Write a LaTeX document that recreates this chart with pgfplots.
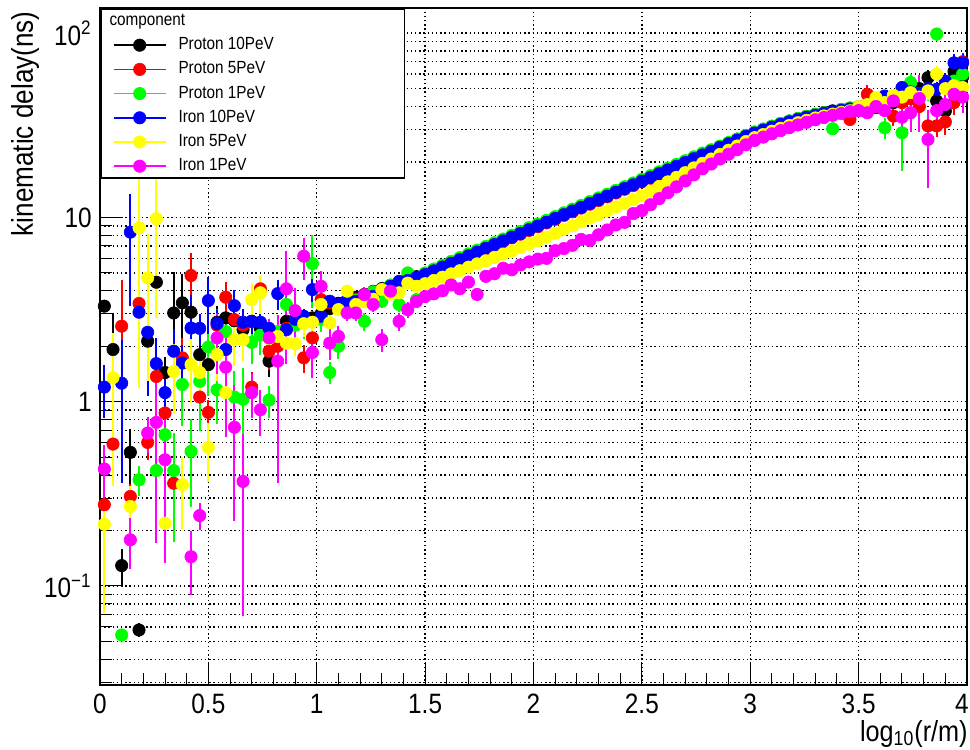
\documentclass[border=0pt]{standalone}
\usepackage{fontspec}
\setmainfont{Liberation Sans}[FakeStretch=0.87]
\usepackage{pgfplots}
\usepackage{pgfplotstable}
\pgfplotsset{compat=1.18}
\definecolor{rBlack}{rgb}{0,0,0}
\definecolor{rRed}{rgb}{1,0,0}
\definecolor{rGreen}{rgb}{0,1,0}
\definecolor{rBlue}{rgb}{0,0,1}
\definecolor{rYellow}{rgb}{1,1,0}
\definecolor{rMagenta}{rgb}{1,0,1}

\pgfplotstableread{
x y e
0.02 3.30 0.25
0.06 1.92 1.1
0.10 0.129 0.03
0.14 0.531 0.18
0.18 0.0577 0.005
0.22 2.13 0.4
0.26 4.45 1.5
0.30 1.44 0.3
0.34 3.03 2.0
0.38 3.44 1.5
0.42 3.06 0.8
0.46 1.80 0.5
0.50 1.59 0.4
0.54 2.70 0.6
0.58 2.85 0.5
0.62 2.75 0.5
0.66 2.46 0.5
0.70 2.73 0.4
0.74 2.50 0.4
0.78 1.66 0.3
0.82 2.34 0.4
0.86 2.73 0.4
0.90 2.80 0.3
0.94 2.90 0.3
0.98 2.85 0.3
1.02 3.00 0.3
1.06 3.20 0.2
1.10 3.42 0.1
1.14 3.56 0.1
1.18 3.69 0.1
1.22 3.82 0.1
1.26 3.97 0.1
1.30 4.11 0.1
1.34 4.27 0.1
1.38 4.43 0.1
1.42 4.60 0.1
1.46 4.77 0.1
1.50 4.95 0.1
1.54 5.18 0.1
1.58 5.44 0.1
1.62 5.70 0.1
1.66 5.96 0.1
1.70 6.26 0.1
1.74 6.55 0.1
1.78 6.86 0.1
1.82 7.19 0.1
1.86 7.54 0.1
1.90 7.90 0.1
1.94 8.27 0.1
1.98 8.68 0.1
2.02 9.08 0.1
2.06 9.51 0.1
2.10 9.97 0.1
2.14 10.45 0.1
2.18 10.95 0.1
2.22 11.46 0.1
2.26 12.03 0.1
2.30 12.59 0.1
2.34 13.19 0.2
2.38 13.85 0.2
2.42 14.49 0.2
2.46 15.18 0.2
2.50 15.90 0.2
2.54 16.64 0.2
2.58 17.47 0.2
2.62 18.29 0.2
2.66 19.16 0.2
2.70 20.06 0.2
2.74 21.05 0.3
2.78 22.05 0.3
2.82 23.09 0.3
2.86 24.23 0.3
2.90 25.37 0.3
2.94 26.56 0.3
2.98 27.82 0.4
3.02 29.00 0.4
3.06 30.09 0.4
3.10 31.21 0.4
3.14 32.31 0.5
3.18 33.37 0.5
3.22 34.38 0.5
3.26 35.34 0.5
3.30 36.25 0.6
3.34 37.10 0.6
3.38 37.88 0.7
3.42 38.57 0.8
3.46 39.20 0.8
3.50 39.0 1
3.54 40.0 2
3.58 39.5 2
3.62 44.0 3
3.66 42.0 3
3.70 47.0 4
3.74 45.0 4
3.78 50.0 5
3.82 57.4 6
3.86 42.9 5
3.90 37.8 6
3.94 62.0 8
3.98 58.0 8
}\Pten

\pgfplotstableread{
x y e
0.02 0.276 0.05
0.06 0.589 0.2
0.10 2.57 2.0
0.14 0.306 0.05
0.18 3.41 0.8
0.22 0.601 0.12
0.26 1.37 0.4
0.30 0.868 0.2
0.34 0.361 0.05
0.38 1.73 0.5
0.42 4.84 1.6
0.46 1.06 0.2
0.50 0.875 0.15
0.54 2.60 0.6
0.58 3.69 0.8
0.62 2.79 0.6
0.66 2.60 0.5
0.70 1.20 0.25
0.74 4.10 0.7
0.78 1.88 0.4
0.82 2.00 0.4
0.86 2.50 0.4
0.90 2.62 0.4
0.94 1.73 0.3
0.98 2.22 0.3
1.02 3.58 0.3
1.06 3.44 0.3
1.10 3.36 0.1
1.14 3.48 0.1
1.18 3.61 0.1
1.22 3.74 0.1
1.26 3.89 0.1
1.30 4.03 0.1
1.34 4.19 0.1
1.38 4.35 0.1
1.42 4.50 0.1
1.46 4.67 0.1
1.50 4.85 0.1
1.54 5.08 0.1
1.58 5.33 0.1
1.62 5.58 0.1
1.66 5.84 0.1
1.70 6.13 0.1
1.74 6.43 0.1
1.78 6.73 0.1
1.82 7.05 0.1
1.86 7.39 0.1
1.90 7.74 0.1
1.94 8.11 0.1
1.98 8.50 0.1
2.02 8.90 0.1
2.06 9.33 0.1
2.10 9.77 0.1
2.14 10.25 0.1
2.18 10.73 0.1
2.22 11.24 0.1
2.26 11.79 0.1
2.30 12.35 0.1
2.34 12.93 0.2
2.38 13.57 0.2
2.42 14.21 0.2
2.46 14.88 0.2
2.50 15.58 0.2
2.54 16.32 0.2
2.58 17.13 0.2
2.62 17.93 0.2
2.66 18.78 0.2
2.70 19.66 0.2
2.74 20.63 0.3
2.78 21.61 0.3
2.82 22.63 0.3
2.86 23.75 0.3
2.90 24.87 0.3
2.94 26.04 0.3
2.98 27.26 0.4
3.02 28.42 0.4
3.06 29.49 0.4
3.10 30.59 0.4
3.14 31.67 0.5
3.18 32.71 0.5
3.22 33.70 0.5
3.26 34.64 0.5
3.30 35.53 0.6
3.34 36.36 0.6
3.38 37.10 0.7
3.42 37.80 0.8
3.46 34.00 1.5
3.50 38.0 1
3.54 46.6 6
3.58 40.0 2
3.62 42.0 3
3.66 35.5 4
3.70 42.0 4
3.74 44.0 4
3.78 40.0 5
3.82 31.4 4
3.86 31.4 4
3.90 33.0 5
3.94 42.0 6
3.98 70.0 8
}\Pfive

\pgfplotstableread{
x y e
0.10 0.0542 0.004
0.18 0.377 0.07
0.26 0.423 0.2
0.30 0.662 0.3
0.34 0.423 0.25
0.38 1.24 0.5
0.42 0.537 0.27
0.46 1.29 0.6
0.50 1.98 0.9
0.54 1.16 0.4
0.58 2.40 0.5
0.62 1.06 0.4
0.66 1.03 0.5
0.70 2.10 0.5
0.74 2.30 0.5
0.78 1.02 0.2
0.82 2.40 0.5
0.86 3.37 0.6
0.90 2.60 0.5
0.94 2.70 0.5
0.98 5.62 2.4
1.02 2.80 0.4
1.06 1.44 0.2
1.10 2.00 0.3
1.14 3.30 0.2
1.18 3.55 0.2
1.22 2.73 0.3
1.26 3.95 0.2
1.30 3.51 0.3
1.34 4.30 0.2
1.38 3.37 0.3
1.42 5.00 0.4
1.46 3.58 0.3
1.50 5.00 0.1
1.54 5.25 0.1
1.58 5.50 0.1
1.62 5.77 0.1
1.66 6.05 0.1
1.70 6.34 0.1
1.74 6.65 0.1
1.78 6.96 0.1
1.82 7.29 0.1
1.86 7.64 0.1
1.90 8.01 0.1
1.94 8.39 0.1
1.98 8.80 0.1
2.02 9.21 0.1
2.06 9.65 0.1
2.10 10.11 0.1
2.14 10.60 0.1
2.18 11.10 0.1
2.22 11.62 0.1
2.26 12.20 0.1
2.30 12.77 0.1
2.34 13.37 0.2
2.38 14.04 0.2
2.42 14.69 0.2
2.46 15.39 0.2
2.50 16.12 0.2
2.54 16.87 0.2
2.58 17.71 0.2
2.62 18.54 0.2
2.66 19.42 0.2
2.70 20.33 0.2
2.74 21.34 0.3
2.78 22.35 0.3
2.82 23.30 0.3
2.86 24.40 0.3
2.90 25.50 0.3
2.94 26.70 0.3
2.98 27.90 0.4
3.02 29.10 0.4
3.06 30.20 0.4
3.10 31.30 0.4
3.14 32.40 0.5
3.18 33.40 0.5
3.22 34.40 0.5
3.26 35.30 0.5
3.30 36.20 0.6
3.34 37.00 0.6
3.38 30.30 2.0
3.42 38.60 0.8
3.46 39.20 0.8
3.50 38.0 1
3.54 39.0 2
3.58 41.0 2
3.62 30.7 4
3.66 45.0 4
3.70 28.8 11
3.74 54.0 6
3.78 47.0 5
3.82 49.0 6
3.86 99.0 8
3.90 52.0 6
3.94 55.0 8
3.98 60.0 8
}\Pone

\pgfplotstableread{
x y e
0.02 1.20 0.38
0.10 1.26 0.9
0.14 8.32 5.0
0.18 3.06 1.2
0.22 2.38 1.3
0.26 1.61 0.6
0.30 1.12 0.3
0.34 1.88 0.6
0.38 1.62 0.4
0.42 2.51 1.3
0.46 2.50 0.5
0.50 3.54 1.2
0.54 2.65 0.5
0.58 1.92 0.4
0.62 3.32 0.7
0.66 2.70 0.5
0.70 2.73 0.4
0.74 2.70 0.4
0.78 2.50 0.3
0.82 3.86 0.7
0.86 2.46 0.4
0.90 2.80 0.3
0.94 2.90 0.3
0.98 4.06 0.6
1.02 2.91 0.3
1.06 3.51 0.3
1.10 3.37 0.1
1.14 3.52 0.1
1.18 3.50 0.1
1.22 3.78 0.1
1.26 3.73 0.1
1.30 4.07 0.1
1.34 4.23 0.1
1.38 4.50 0.1
1.42 4.55 0.1
1.46 4.72 0.1
1.50 4.90 0.1
1.54 5.13 0.1
1.58 5.38 0.1
1.62 5.64 0.1
1.66 5.90 0.1
1.70 6.19 0.1
1.74 6.49 0.1
1.78 6.80 0.1
1.82 7.12 0.1
1.86 7.46 0.1
1.90 7.82 0.1
1.94 8.19 0.1
1.98 8.59 0.1
2.02 8.99 0.1
2.06 9.42 0.1
2.10 9.87 0.1
2.14 10.35 0.1
2.18 10.84 0.1
2.22 11.35 0.1
2.26 11.91 0.1
2.30 12.47 0.1
2.34 13.06 0.2
2.38 13.71 0.2
2.42 14.35 0.2
2.46 15.03 0.2
2.50 15.74 0.2
2.54 16.48 0.2
2.58 17.30 0.2
2.62 18.11 0.2
2.66 18.97 0.2
2.70 19.86 0.2
2.74 20.84 0.3
2.78 21.83 0.3
2.82 22.86 0.3
2.86 23.99 0.3
2.90 25.12 0.3
2.94 26.30 0.3
2.98 27.54 0.4
3.02 28.71 0.4
3.06 29.79 0.4
3.10 30.90 0.4
3.14 31.99 0.5
3.18 33.04 0.5
3.22 34.04 0.5
3.26 34.99 0.5
3.30 35.89 0.6
3.34 36.73 0.6
3.38 37.50 0.7
3.42 38.19 0.8
3.46 38.82 0.8
3.50 40.0 1
3.54 41.0 1.5
3.58 43.0 2
3.62 45.6 3
3.66 44.0 3
3.70 50.7 4
3.74 48.0 4
3.78 47.0 4
3.82 50.0 5
3.86 49.6 5
3.90 55.0 6
3.94 69.0 8
3.98 69.0 8
}\Iten

\pgfplotstableread{
x y e
0.02 0.216 0.145
0.06 1.35 1.0
0.14 0.270 0.08
0.18 8.79 7.6
0.22 4.70 3.4
0.26 9.84 7.0
0.30 0.219 0.08
0.34 1.46 0.6
0.38 0.354 0.15
0.42 1.59 0.6
0.46 1.44 0.4
0.50 0.565 0.2
0.54 1.80 0.5
0.58 1.12 0.4
0.62 2.17 0.6
0.66 2.17 0.5
0.70 3.58 0.8
0.74 3.90 0.9
0.78 2.20 0.5
0.82 2.26 0.4
0.86 2.08 0.4
0.90 2.06 0.3
0.94 2.65 0.4
0.98 2.70 0.4
1.02 3.37 0.4
1.06 2.68 0.3
1.10 3.16 0.2
1.14 3.98 0.3
1.18 3.37 0.2
1.22 3.48 0.2
1.26 3.60 0.2
1.30 4.06 0.3
1.34 3.84 0.2
1.38 3.90 0.2
1.42 4.40 0.2
1.46 4.23 0.1
1.50 4.37 0.1
1.54 4.55 0.1
1.58 4.74 0.1
1.62 4.94 0.1
1.66 5.14 0.1
1.70 5.37 0.1
1.74 5.60 0.1
1.78 5.82 0.1
1.82 6.07 0.1
1.86 6.32 0.1
1.90 6.59 0.1
1.94 6.87 0.1
1.98 7.16 0.1
2.02 7.48 0.1
2.06 7.83 0.1
2.10 8.20 0.1
2.14 8.61 0.1
2.18 9.02 0.1
2.22 9.44 0.1
2.26 9.91 0.1
2.30 10.38 0.1
2.34 10.86 0.2
2.38 11.40 0.2
2.42 11.94 0.2
2.46 12.50 0.2
2.50 13.09 0.2
2.54 13.87 0.2
2.58 14.72 0.2
2.62 15.60 0.2
2.66 16.52 0.2
2.70 17.50 0.2
2.74 18.58 0.3
2.78 19.68 0.3
2.82 20.75 0.3
2.86 21.98 0.3
2.90 23.17 0.3
2.94 24.43 0.3
2.98 25.82 0.4
3.02 27.10 0.4
3.06 28.18 0.4
3.10 29.38 0.4
3.14 30.48 0.5
3.18 31.55 0.5
3.22 32.66 0.5
3.26 33.65 0.5
3.30 34.67 0.6
3.34 35.56 0.6
3.38 36.39 0.7
3.42 37.24 0.8
3.46 37.93 0.8
3.50 40.0 1
3.54 41.0 1.5
3.58 44.7 2
3.62 42.0 3
3.66 46.0 3
3.70 45.0 4
3.74 47.6 4
3.78 45.0 4
3.82 48.6 5
3.86 60.0 6
3.90 50.0 6
3.94 52.0 7
3.98 50.7 8
}\Ifive

\pgfplotstableread{
x y e
0.02 0.431 0.15
0.14 0.178 0.055
0.22 0.676 0.15
0.26 0.772 0.6
0.30 0.484 0.35
0.42 0.144 0.055
0.46 0.241 0.04
0.54 2.22 0.8
0.58 1.54 0.9
0.62 0.726 0.5
0.66 0.369 0.3
0.70 1.12 0.3
0.74 0.905 0.25
0.78 2.22 0.6
0.82 1.66 1.3
0.86 4.10 2.5
0.90 3.12 1.0
0.94 6.16 1.6
0.98 1.85 0.5
1.02 4.23 0.9
1.06 2.08 0.4
1.10 2.26 0.3
1.14 3.03 0.3
1.18 3.03 0.3
1.22 3.81 0.4
1.26 3.37 0.3
1.30 2.17 0.3
1.34 3.98 0.3
1.38 2.73 0.3
1.42 3.16 0.3
1.46 3.50 0.2
1.50 3.72 0.2
1.54 3.85 0.2
1.58 4.00 0.2
1.62 4.30 0.2
1.66 4.10 0.2
1.70 4.46 0.2
1.74 3.82 0.3
1.78 4.79 0.2
1.82 4.95 0.2
1.86 5.30 0.2
1.90 5.20 0.2
1.94 5.52 0.2
1.98 5.74 0.2
2.02 5.94 0.2
2.06 6.00 0.2
2.10 6.60 0.2
2.14 6.78 0.2
2.18 7.06 0.2
2.22 7.60 0.2
2.26 7.50 0.2
2.30 8.05 0.2
2.34 8.55 0.2
2.38 9.10 0.2
2.42 9.40 0.3
2.46 10.50 0.3
2.50 10.89 0.3
2.54 11.72 0.3
2.58 12.65 0.3
2.62 13.61 0.3
2.66 14.66 0.3
2.70 15.78 0.3
2.74 17.02 0.3
2.78 18.37 0.4
2.82 19.50 0.4
2.86 20.75 0.4
2.90 22.03 0.4
2.94 23.33 0.4
2.98 24.77 0.5
3.02 26.18 0.5
3.06 27.29 0.5
3.10 28.44 0.5
3.14 29.58 0.6
3.18 30.69 0.6
3.22 31.77 0.6
3.26 32.81 0.7
3.30 33.88 0.7
3.34 34.83 0.8
3.38 35.81 0.8
3.42 36.64 0.9
3.46 37.50 1.0
3.50 38.0 1
3.54 37.0 1.5
3.58 40.0 2
3.62 38.0 3
3.66 42.9 4
3.70 35.0 6
3.74 37.0 8
3.78 44.2 15
3.82 26.5 12
3.86 38.0 8
3.90 41.0 6
3.94 46.6 8
3.98 45.0 8
}\Ione

\pgfplotsset{
  ser/.style={only marks, mark=*, mark size=3.1pt, color=#1,
    mark options={line width=0.3pt},
    legend image code/.code={
      \draw[##1,line width=0.8pt] (0pt,0pt) -- (26pt,0pt);
      \draw[##1,line width=0.3pt] plot coordinates {(13pt,0pt)};
    },
    error bars/.cd, y dir=both, y explicit, error mark=none,
    error bar style={line width=1pt, color=#1}},
}

\begin{document}
\begin{tikzpicture}
\begin{axis}[
  scale only axis, width=433.5pt, height=338.5pt,
  xmin=0, xmax=4, ymode=log, ymin=0.029, ymax=137,
  axis line style={line width=0.9pt},
  tick align=inside, xtick pos=bottom, ytick pos=left,
  xtick={0,0.5,1,1.5,2,2.5,3,3.5,4},
  xticklabels={0,0.5,1,1.5,2,2.5,3,3.5,\kern-5pt 4},
  minor x tick num=4,
  ytick={0.1,1,10,100},
  yticklabels={10\textsuperscript{−1},1,10,10\textsuperscript{2}},
  minor ytick={0.03,0.04,0.05,0.06,0.07,0.08,0.09,0.2,0.3,0.4,0.5,0.6,0.7,0.8,0.9,2,3,4,5,6,7,8,9,20,30,40,50,60,70,80,90},
  major tick length=11.5pt, minor tick length=6pt,
  every tick/.style={black, line width=0.5pt},
  xmajorgrids, ymajorgrids, yminorgrids,
  major grid style={black, line width=0.7pt, dash pattern=on 0.7pt off 1.4pt},
  minor grid style={black, line width=0.7pt, dash pattern=on 0.7pt off 1.4pt},
  tick label style={font=\fontsize{14}{16}\selectfont},
  xticklabel style={inner sep=0pt, yshift=-4.5pt},
  yticklabel style={inner sep=0pt, xshift=-4pt},
  legend style={at={(rel axis cs:0,1)}, anchor=north west, draw=black,
    line width=0.9pt, fill=white, font=\fontsize{8.8}{10.5}\selectfont,
    inner xsep=6pt, inner ysep=0pt, row sep=0pt, column sep=6pt,
    nodes={inner xsep=0pt, inner ysep=1.8pt, text height=6.5pt, text depth=2pt}},
  legend cell align=left,
]
\coordinate (SW) at (rel axis cs:0,0);
\coordinate (NE) at (rel axis cs:1,1);
\coordinate (SE) at (rel axis cs:1,0);
\coordinate (NW) at (rel axis cs:0,1);
\addlegendimage{empty legend}
\addlegendentry{\hspace*{-34.5pt}component}
\addplot[ser=rBlack] table[x=x,y=y,y error=e]{\Pten};
\addlegendentry{\makebox[107pt][l]{Proton 10PeV}}
\addplot[ser=rRed] table[x=x,y=y,y error=e]{\Pfive};
\addlegendentry{Proton 5PeV}
\addplot[ser=rGreen] table[x=x,y=y,y error=e]{\Pone};
\addlegendentry{Proton 1PeV}
\addplot[ser=rBlue] table[x=x,y=y,y error=e]{\Iten};
\addlegendentry{Iron 10PeV}
\addplot[ser=rYellow] table[x=x,y=y,y error=e]{\Ifive};
\addlegendentry{Iron 5PeV}
\addplot[ser=rMagenta] table[x=x,y=y,y error=e]{\Ione};
\addlegendentry{Iron 1PeV}
\end{axis}
\node[rotate=90, anchor=east, inner sep=0pt, font=\fontsize{15}{17}\selectfont]
  at ([xshift=-37.5pt,yshift=-1.5pt]NW) {kinematic delay(ns)};
\node[anchor=north east, inner sep=0pt, font=\fontsize{14.5}{16}\selectfont]
  at ([xshift=0.5pt,yshift=-17.4pt]SE) {log\textsubscript{10}(r/m)};
\pgfresetboundingbox
\path[use as bounding box] ([xshift=-50pt,yshift=-32pt]SW) rectangle ([xshift=1.5pt,yshift=4pt]NE);
\end{tikzpicture}
\end{document}
